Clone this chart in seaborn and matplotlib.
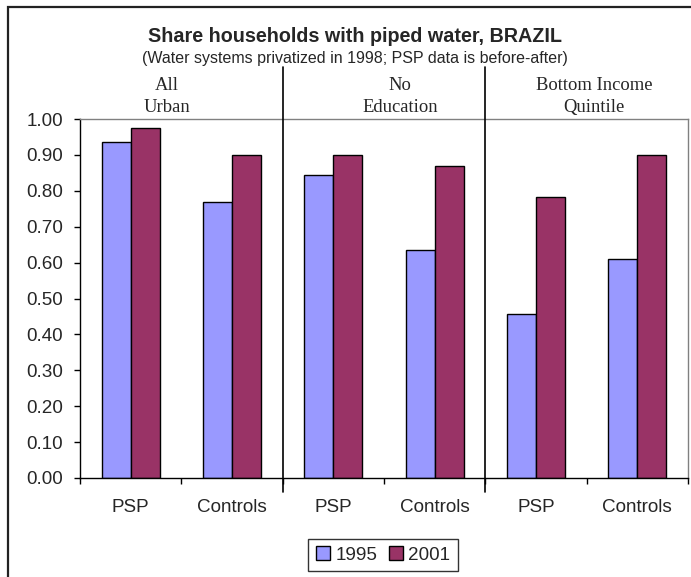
import matplotlib
matplotlib.use("Agg")
import matplotlib.pyplot as plt
from matplotlib.patches import Rectangle, Patch
import seaborn as sns
import pandas as pd

# Data
groups = ["All Urban", "No Education", "Bottom Income Quintile"]
group_headers = [("All", "Urban"), ("No", "Education"), ("Bottom Income", "Quintile")]
samples = ["PSP", "Controls"]
years = ["1995", "2001"]
share_1995 = [0.936, 0.769, 0.844, 0.634, 0.456, 0.609]
share_2001 = [0.975, 0.901, 0.901, 0.869, 0.783, 0.901]

slots = [f"{g}|{s}" for g in groups for s in samples]
slot_labels = [s for g in groups for s in samples]

df = pd.DataFrame({
    "slot": slots * 2,
    "year": [years[0]] * len(slots) + [years[1]] * len(slots),
    "share": share_1995 + share_2001,
})

sns.set_style("white")
plt.rcParams["font.family"] = ["Liberation Sans", "DejaVu Sans"]

W, H = 691, 577
fig = plt.figure(figsize=(W / 100, H / 100), dpi=100)
ax = fig.add_axes([80 / W, 1 - 478 / H, (688 - 80) / W, (478 - 119) / H])

palette = {"1995": "#9999FF", "2001": "#993366"}
sns.barplot(data=df, x="slot", y="share", hue="year", order=slots,
            hue_order=years, palette=palette, width=0.57, gap=0,
            edgecolor="black", linewidth=1.0, saturation=1,
            legend=False, ax=ax)

ax.set_xlim(-0.5, len(slots) - 0.5)
ax.set_ylim(0, 1.0)
ax.set_yticks([i / 10 for i in range(11)])
ax.set_yticklabels([f"{i / 10:.2f}" for i in range(11)])
ax.set_xticks(range(len(slots)))
ax.set_xticklabels(slot_labels)
ax.set_xticks([i + 0.5 for i in range(-1, len(slots))], minor=True)
ax.set_xlabel("")
ax.set_ylabel("")

ax.tick_params(axis="y", which="major", direction="out", length=4.3,
               width=1, color="black", pad=8, labelsize=13.6, left=True)
ax.tick_params(axis="x", which="major", length=0, pad=15, labelsize=13.6)
ax.tick_params(axis="x", which="minor", direction="out", length=4.3,
               width=1, color="black", bottom=True)

for side in ["left", "bottom"]:
    ax.spines[side].set_color("black")
    ax.spines[side].set_linewidth(1.0)
for side in ["top", "right"]:
    ax.spines[side].set_color("#808080")
    ax.spines[side].set_linewidth(1.0)
    ax.spines[side].set_visible(True)

# Vertical separators between the three population groups
for xb in [1.5, 3.5]:
    ax.plot([xb, xb], [-0.039, 1.145], color="black", linewidth=1.2,
            clip_on=False, zorder=5)

# Group headers (two lines each)
header_x = [0.359, 2.658, 4.572]
for hx, (l1, l2) in zip(header_x, group_headers):
    ax.text(hx, 1.092, l1, ha="center", va="center", fontsize=13.4,
            family=["Liberation Serif"], clip_on=False)
    ax.text(hx, 1.031, l2, ha="center", va="center", fontsize=13.4,
            family=["Liberation Serif"], clip_on=False)

fig.text(355 / W, 1 - 37 / H, "Share households with piped water, BRAZIL",
         ha="center", va="center", fontsize=14.2, fontweight="bold")
fig.text(355 / W, 1 - 59 / H,
         "(Water systems privatized in 1998; PSP data is before-after)",
         ha="center", va="center", fontsize=11.5)

# Outer chart frame
fig.patches.append(Rectangle((8 / W, -0.2), 1.2, 1.2 - 7 / H,
                             transform=fig.transFigure, fill=False,
                             edgecolor="#222222", linewidth=1.6))

handles = [Patch(facecolor=palette[y], edgecolor="black", linewidth=1.0,
                 label=y) for y in years]
leg = fig.legend(handles=handles, loc="center", ncol=2,
                 bbox_to_anchor=(383 / W, 1 - 555 / H), frameon=True,
                 fancybox=False, edgecolor="black", fontsize=13.6,
                 handlelength=0.75, handleheight=0.75, handletextpad=0.3,
                 columnspacing=0.6, borderpad=0.4, borderaxespad=0)
leg.get_frame().set_linewidth(1.0)

fig.savefig("out.png", dpi=100)
